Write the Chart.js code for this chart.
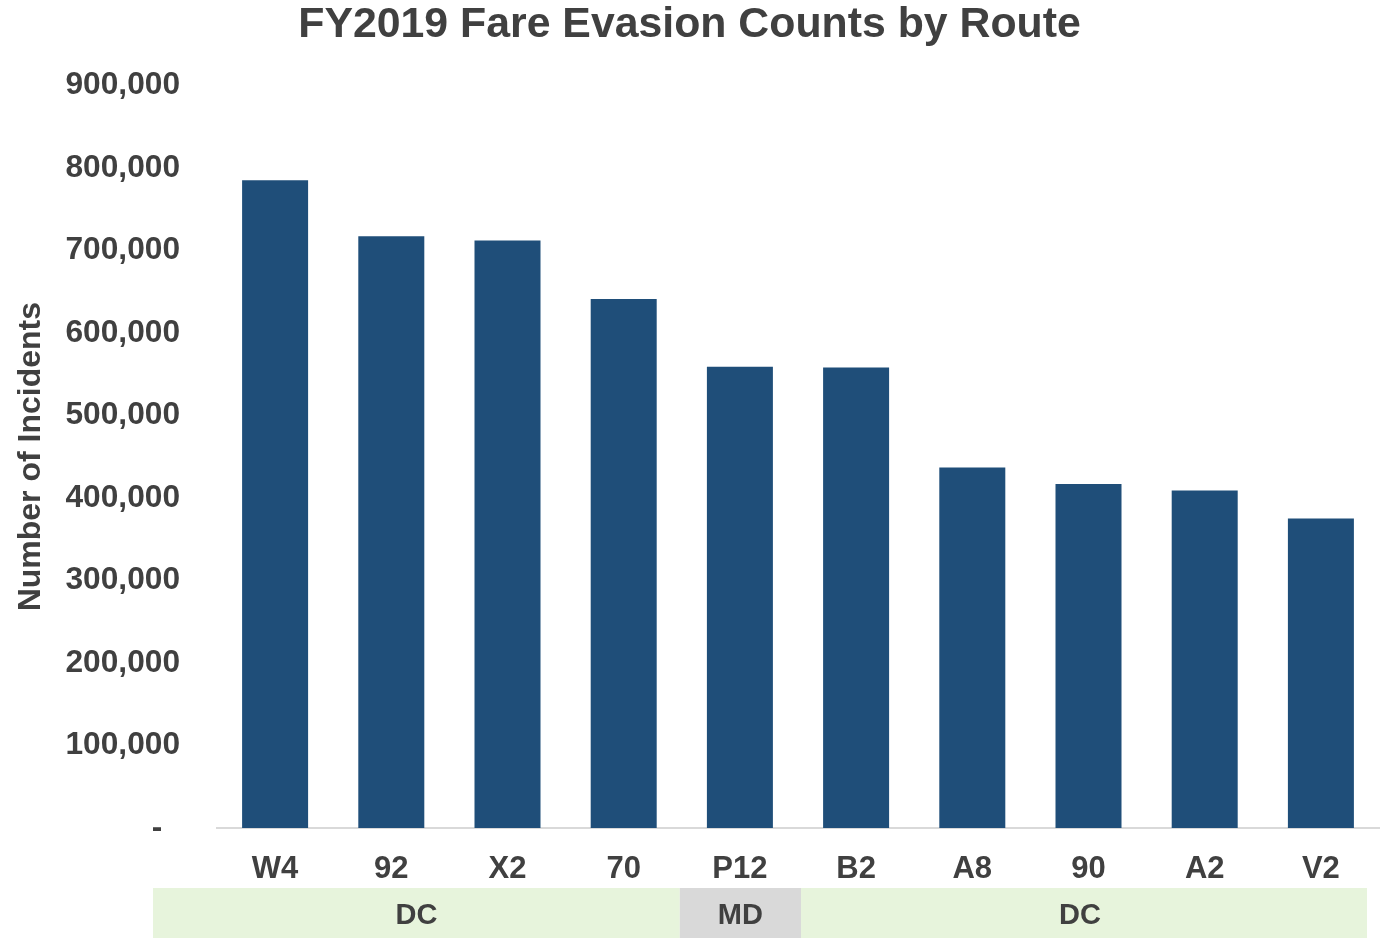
<!DOCTYPE html>
<html>
<head>
<meta charset="utf-8">
<script src="https://cdn.jsdelivr.net/npm/chart.js@4.4.1/dist/chart.umd.min.js"></script>
<style>
html,body{margin:0;padding:0;background:#fff;}
#wrap{width:1384px;height:938px;position:relative;}
</style>
</head>
<body>
<div id="wrap"><canvas id="c" width="1384" height="938"></canvas></div>
<script>
const routes = ["W4","92","X2","70","P12","B2","A8","90","A2","V2"];
const incidents = [785000,717000,712000,641000,559000,558000,437000,417000,409000,375000];
const regionNames = ["DC","MD","DC"];
const regionSpans = [4,1,5];
const regionColors = ["#E7F4DC","#D9D9D9","#E7F4DC"];

const FONT = "'Liberation Sans', Arial, sans-serif";
const TEXT = "#404040";

const bandPlugin = {
  id: 'bands',
  afterDraw(chart) {
    const ctx = chart.ctx;
    const xs = chart.scales.x;
    const half = (xs.getPixelForValue(1) - xs.getPixelForValue(0)) / 2;
    const top = chart.chartArea.bottom + 60;
    const bottom = chart.height;
    let idx = 0;
    let prevRight = null;
    ctx.save();
    regionNames.forEach((name, i) => {
      const first = idx, last = idx + regionSpans[i] - 1;
      let x0 = prevRight !== null ? prevRight : xs.left - 64;
      let x1 = (i === regionNames.length - 1) ? xs.right - 12 : xs.getPixelForValue(last) + half + (i > 0 ? 3 : -2);
      ctx.fillStyle = regionColors[i];
      ctx.fillRect(x0, top, x1 - x0, bottom - top);
      ctx.fillStyle = TEXT;
      ctx.font = "bold 29px " + FONT;
      ctx.textAlign = 'center';
      ctx.textBaseline = 'middle';
      ctx.fillText(name, (x0 + x1) / 2 - (i === regionNames.length - 1 ? 4 : 0), (top + bottom) / 2 + 3);
      prevRight = x1;
      idx += regionSpans[i];
    });
    ctx.restore();
  }
};

new Chart(document.getElementById('c'), {
  type: 'bar',
  data: {
    labels: routes,
    datasets: [{
      data: incidents,
      backgroundColor: '#1F4E79',
      borderWidth: 0,
      barPercentage: 0.568,
      categoryPercentage: 1.0
    }]
  },
  options: {
    responsive: false,
    animation: false,
    layout: { padding: { top: 0, right: 5, bottom: 50, left: 0 } },
    plugins: {
      legend: { display: false },
      tooltip: { enabled: false },
      title: {
        display: true,
        text: 'FY2019 Fare Evasion Counts by Route',
        color: TEXT,
        font: { family: FONT, size: 42.8, weight: 'bold', lineHeight: 1.2 },
        padding: { top: 0, bottom: 34 }
      }
    },
    scales: {
      x: {
        grid: { display: false, drawTicks: false },
        border: { display: true, color: '#D9D9D9', width: 2 },
        ticks: {
          color: TEXT,
          padding: 23,
          font: { family: FONT, size: 31, weight: 'bold' },
          maxRotation: 0, autoSkip: false
        },
        afterFit(s) { s.height = 60; }
      },
      y: {
        min: 0, max: 900000,
        grid: { display: false, drawTicks: false },
        border: { display: false },
        ticks: {
          stepSize: 100000,
          color: TEXT,
          padding: 37,
          font: { family: FONT, size: 31.7, weight: 'bold' },
          callback: v => v === 0 ? '-  ' : v.toLocaleString('en-US')
        },
        title: {
          display: true,
          text: 'Number of Incidents',
          color: TEXT,
          font: { family: FONT, size: 32, weight: 'bold' },
          padding: { top: 12, bottom: 0 }
        },
        afterFit(s) { s.width = 217; }
      }
    }
  },
  plugins: [bandPlugin]
});
</script>
</body>
</html>
